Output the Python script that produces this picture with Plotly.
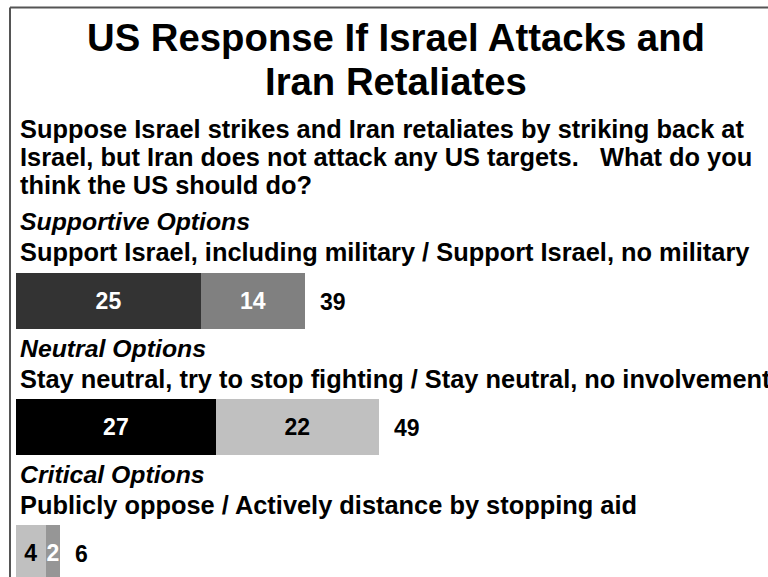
import plotly.graph_objects as go

# ---- data ----
groups = ["Supportive Options", "Neutral Options", "Critical Options"]
option_labels = [
    "Support Israel, including military / Support Israel, no military",
    "Stay neutral, try to stop fighting / Stay neutral, no involvement",
    "Publicly oppose / Actively distance by stopping aid",
]
first_values = [25, 27, 4]
second_values = [14, 22, 2]
totals = [39, 49, 6]
title_lines = ["US Response If Israel Attacks and", "Iran Retaliates"]
question_lines = [
    "Suppose Israel strikes and Iran retaliates by striking back at",
    "Israel, but Iran does not attack any US targets.   What do you",
    "think the US should do?",
]

# ---- styles ----
first_colors = ["#333333", "#000000", "#C0C0C0"]
second_colors = ["#808080", "#C0C0C0", "#969696"]
first_text_colors = ["white", "white", "black"]
second_text_colors = ["white", "black", "white"]

W, H = 768, 577
FONT = "Liberation Sans, Arial, sans-serif"

# pixel layout helpers
px_per_unit = 7.4
x0_px = 16
bar_center0 = 301
bar_step = 126
bar_px = 56

def py(p):
    return 1 - p / H

fig = go.Figure()
fig.add_trace(go.Bar(
    y=groups, x=first_values, orientation="h",
    marker=dict(color=first_colors, line=dict(width=0)),
    text=[str(v) for v in first_values], textposition="inside",
    insidetextanchor="middle", constraintext="none",
    textfont=dict(family=FONT, size=23, weight="bold", color=first_text_colors),
    width=bar_px / bar_step, hoverinfo="skip", showlegend=False,
))
fig.add_trace(go.Bar(
    y=groups, x=second_values, orientation="h",
    marker=dict(color=second_colors, line=dict(width=0)),
    text=[str(v) for v in second_values], textposition="inside",
    insidetextanchor="middle", constraintext="none",
    textfont=dict(family=FONT, size=23, weight="bold", color=second_text_colors),
    width=bar_px / bar_step, hoverinfo="skip", showlegend=False,
))

annotations = []
# title lines
for line, c in zip(title_lines, [37.5, 81]):
    annotations.append(dict(
        x=396 / W, y=py(c), xref="paper", yref="paper", text=line,
        showarrow=False, xanchor="center", yanchor="middle",
        font=dict(family=FONT, size=38.3, weight="bold", color="black"),
    ))

# totals
for g, t in zip(groups, totals):
    annotations.append(dict(
        x=t, y=g, xref="x", yref="y", text=str(t), showarrow=False,
        xanchor="left", yanchor="middle", xshift=13, yshift=-1,
        font=dict(family=FONT, size=23, weight="bold", color="black"),
    ))

# question lines
q_centers = [129, 157, 185]
for line, c in zip(question_lines, q_centers):
    annotations.append(dict(
        x=18 / W, y=py(c), xref="paper", yref="paper", text=line,
        showarrow=False, xanchor="left", yanchor="middle",
        font=dict(family=FONT, size=25.4, weight="bold", color="black"),
    ))

# group headers and option labels
header_centers = [221, 348, 474]
label_centers = [252, 379, 505]
for g, lab, hc, lc in zip(groups, option_labels, header_centers, label_centers):
    annotations.append(dict(
        x=18 / W, y=py(hc), xref="paper", yref="paper", text=g,
        showarrow=False, xanchor="left", yanchor="middle",
        font=dict(family=FONT, size=24.8, weight="bold", style="italic", color="black"),
    ))
    annotations.append(dict(
        x=18 / W, y=py(lc), xref="paper", yref="paper", text=lab,
        showarrow=False, xanchor="left", yanchor="middle",
        font=dict(family=FONT, size=25.4, weight="bold", color="black"),
    ))

y_top = (0 - bar_center0) / bar_step
y_bot = (H - bar_center0) / bar_step

fig.update_layout(
    width=W, height=H, autosize=False,
    margin=dict(l=0, r=0, t=0, b=0, pad=0),
    paper_bgcolor="white", plot_bgcolor="white",
    barmode="stack",
    xaxis=dict(range=[-x0_px / px_per_unit, (W - x0_px) / px_per_unit],
               visible=False, fixedrange=True),
    yaxis=dict(range=[y_bot, y_top], visible=False, fixedrange=True,
               categoryorder="array", categoryarray=groups),
    annotations=annotations,
    shapes=[
        dict(type="line", xref="paper", yref="paper",
             x0=10 / W, x1=1, y0=py(7.5), y1=py(7.5),
             line=dict(color="#555555", width=2)),
        dict(type="line", xref="paper", yref="paper",
             x0=10 / W, x1=10 / W, y0=py(7.5), y1=0,
             line=dict(color="#555555", width=2)),
    ],
)

fig.write_html(
    "out.html",
    config={"staticPlot": True},
    post_script="document.body.style.margin='0px';document.body.style.overflow='hidden';",
)
